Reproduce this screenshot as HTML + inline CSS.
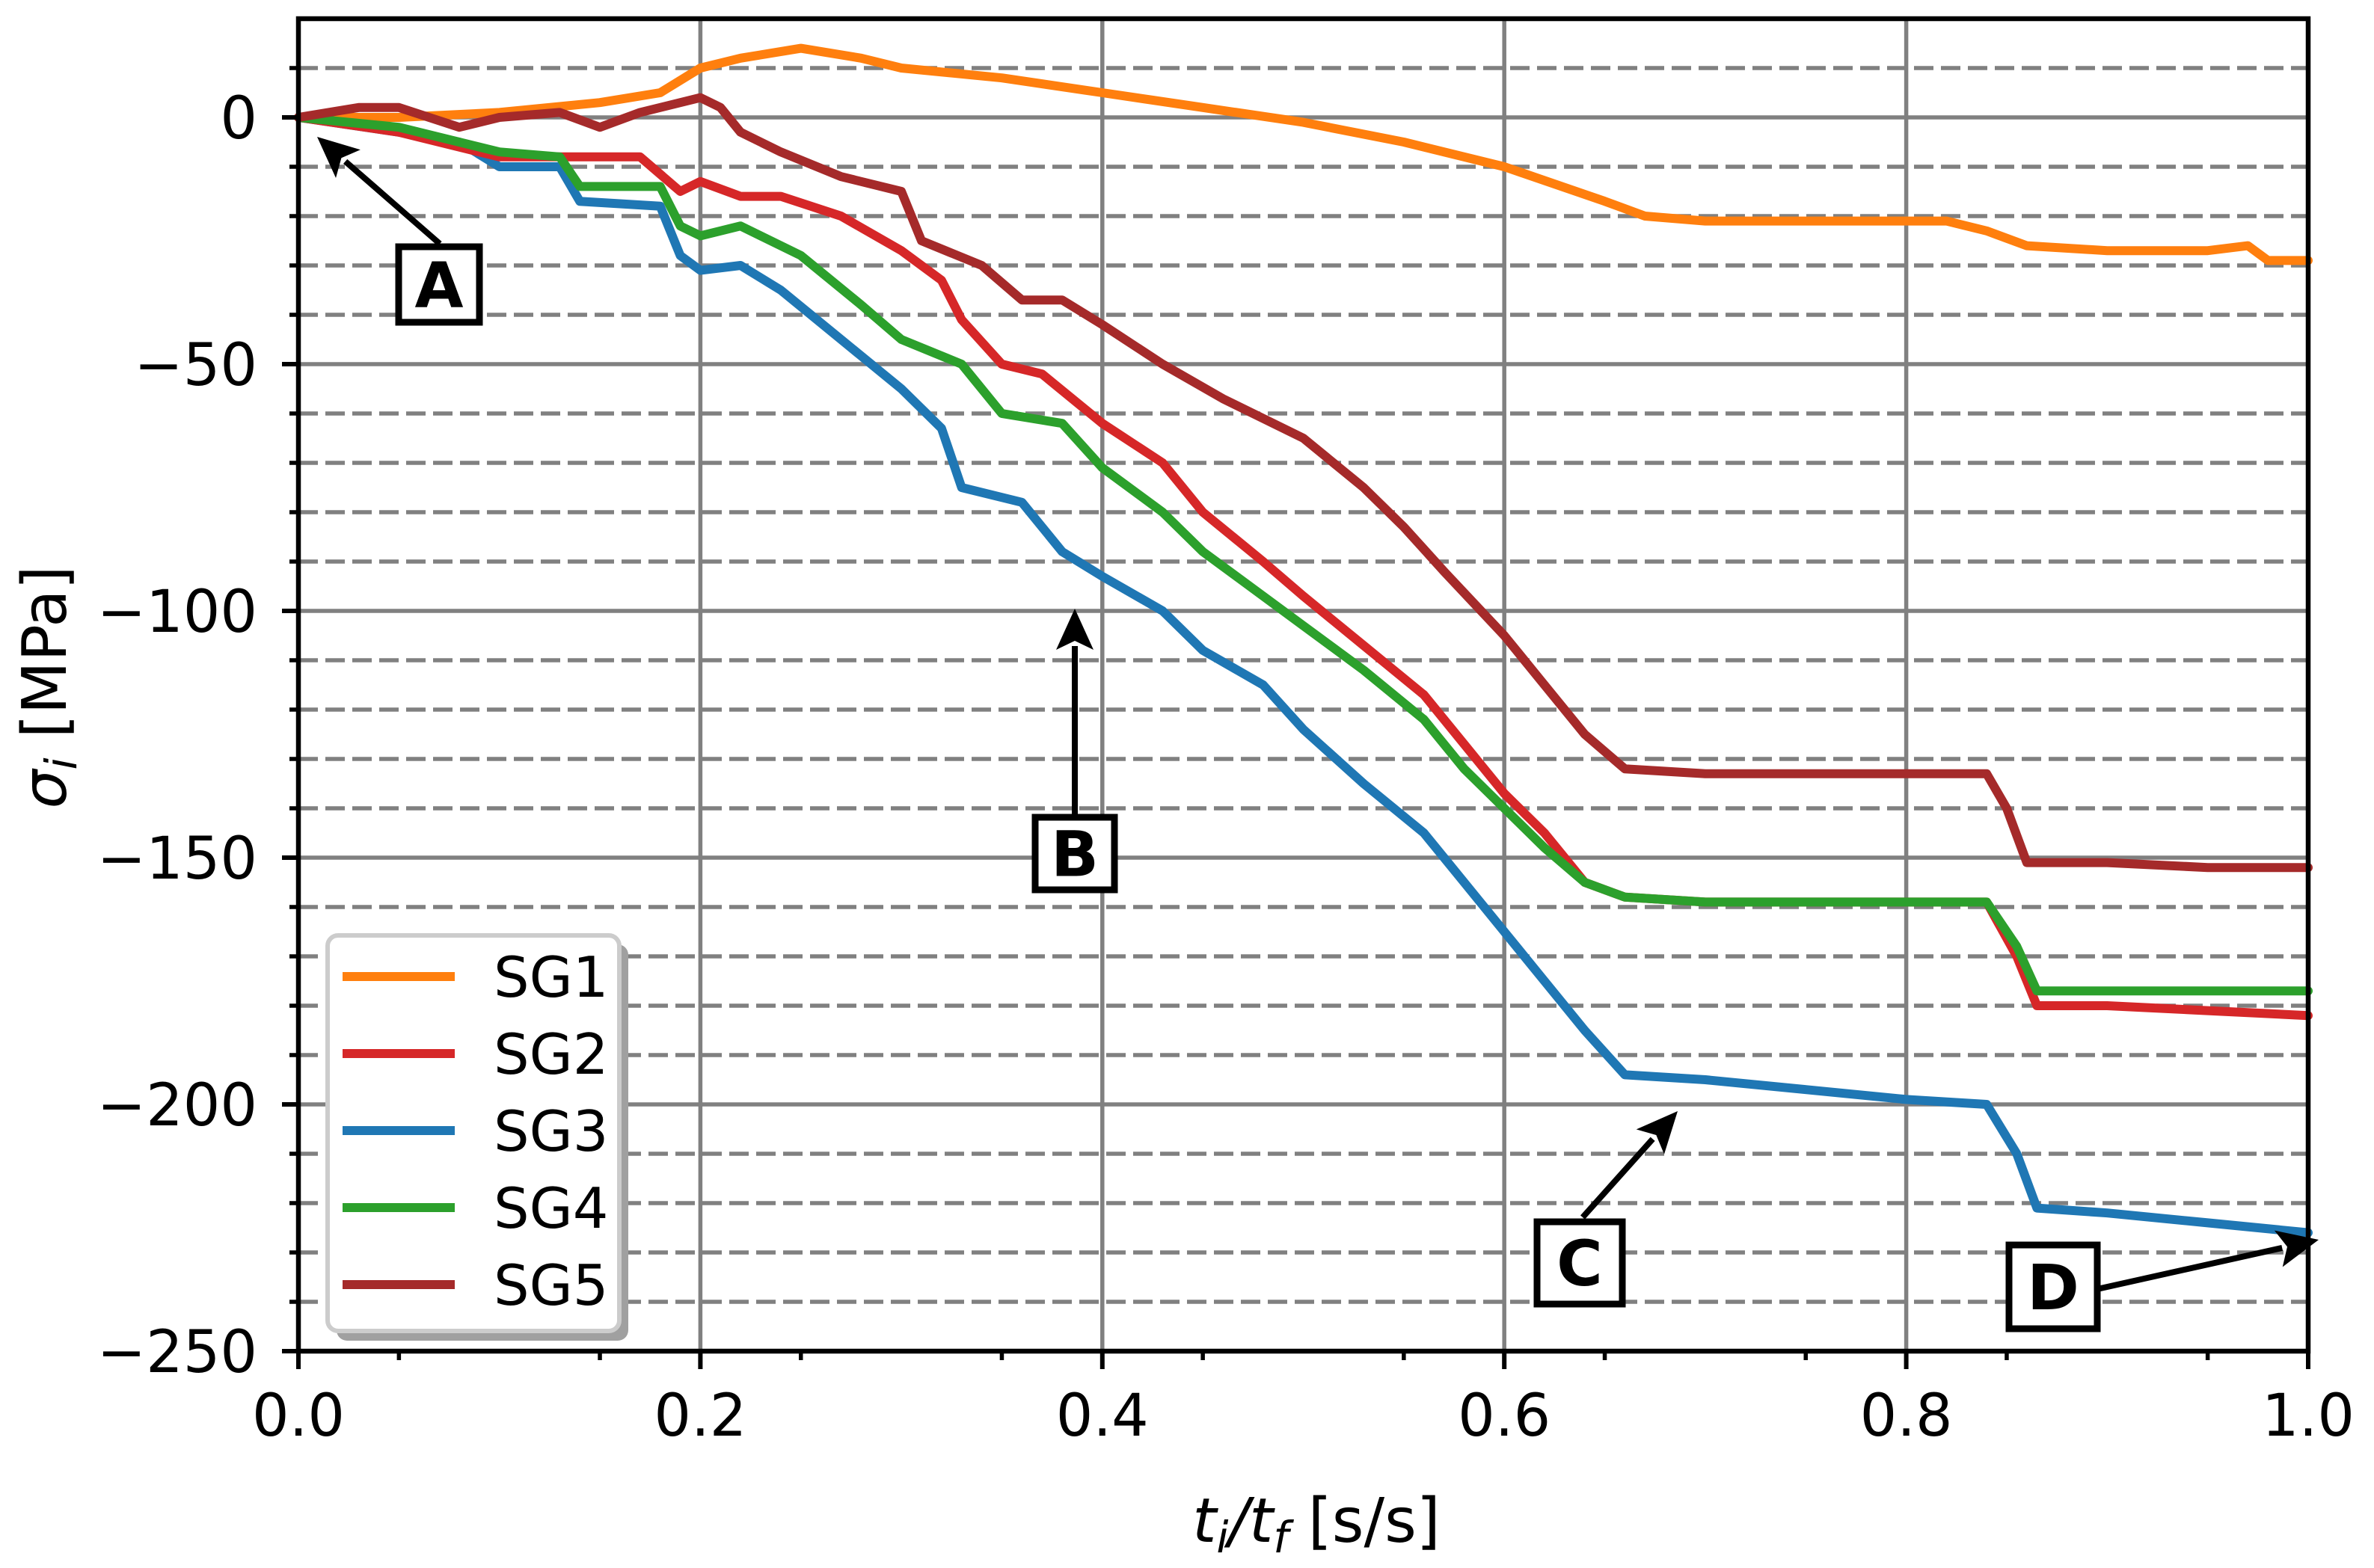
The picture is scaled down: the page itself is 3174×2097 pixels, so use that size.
<!DOCTYPE html>
<html><head><meta charset="utf-8"><style>
html,body{margin:0;padding:0;background:#fff}
svg{display:block}
text{font-family:"DejaVu Sans","Liberation Sans",sans-serif;fill:#000}
</style></head><body>
<svg id="chart" xmlns="http://www.w3.org/2000/svg" width="3174" height="2097" viewBox="0 0 3174 2097">
<g id="grid"></g>
<g id="series"></g>
<g id="axes"></g>
<g id="legend"></g>
<g id="annot"></g>
<text transform="translate(88,919) rotate(-90)" text-anchor="middle" font-size="82"><tspan font-style="italic">σ</tspan><tspan font-style="italic" font-size="58" dy="14">i</tspan><tspan dy="-14"> [MPa]</tspan></text>
<text x="1760" y="2062" text-anchor="middle" font-size="82"><tspan font-style="italic">t</tspan><tspan font-style="italic" font-size="58" dy="14">i</tspan><tspan dy="-14" font-style="italic">/t</tspan><tspan font-style="italic" font-size="58" dy="14">f</tspan><tspan dy="-14"> [s/s]</tspan></text>
</svg>
<script>
const xTicks=[0,0.2,0.4,0.6,0.8,1.0];
const xTickLabels=["0.0","0.2","0.4","0.6","0.8","1.0"];
const yTicks=[0,-50,-100,-150,-200,-250];
const yTickLabels=["0","\u221250","\u2212100","\u2212150","\u2212200","\u2212250"];
const seriesNames=["SG1","SG2","SG3","SG4","SG5"];
const sg1X=[0,0.05,0.1,0.15,0.18,0.2,0.22,0.25,0.28,0.3,0.35,0.4,0.45,0.5,0.55,0.6,0.65,0.67,0.7,0.8,0.82,0.84,0.86,0.9,0.95,0.97,0.98,1.0];
const sg1Y=[0,0,1,3,5,10,12,14,12,10,8,5,2,-1,-5,-10,-17,-20,-21,-21,-21,-23,-26,-27,-27,-26,-29,-29];
const sg2X=[0,0.05,0.1,0.13,0.17,0.19,0.2,0.22,0.24,0.27,0.3,0.32,0.33,0.35,0.37,0.4,0.43,0.45,0.48,0.5,0.53,0.56,0.58,0.6,0.62,0.64,0.66,0.7,0.8,0.84,0.855,0.865,0.9,0.95,1.0];
const sg2Y=[0,-3,-8,-8,-8,-15,-13,-16,-16,-20,-27,-33,-41,-50,-52,-62,-70,-80,-90,-97,-107,-117,-127,-137,-145,-155,-158,-159,-159,-159,-170,-180,-180,-181,-182];
const sg3X=[0,0.05,0.08,0.1,0.13,0.14,0.18,0.19,0.2,0.22,0.24,0.27,0.3,0.32,0.33,0.36,0.38,0.4,0.43,0.45,0.48,0.5,0.53,0.56,0.58,0.6,0.62,0.64,0.66,0.7,0.75,0.8,0.84,0.855,0.865,0.9,0.95,1.0];
const sg3Y=[0,-3,-5,-10,-10,-17,-18,-28,-31,-30,-35,-45,-55,-63,-75,-78,-88,-93,-100,-108,-115,-124,-135,-145,-155,-165,-175,-185,-194,-195,-197,-199,-200,-210,-221,-222,-224,-226];
const sg4X=[0,0.05,0.1,0.13,0.14,0.18,0.19,0.2,0.22,0.25,0.28,0.3,0.33,0.35,0.38,0.4,0.43,0.45,0.48,0.5,0.53,0.56,0.58,0.6,0.62,0.64,0.66,0.7,0.8,0.84,0.855,0.865,0.9,0.95,1.0];
const sg4Y=[0,-2,-7,-8,-14,-14,-22,-24,-22,-28,-38,-45,-50,-60,-62,-71,-80,-88,-97,-103,-112,-122,-132,-140,-148,-155,-158,-159,-159,-159,-168,-177,-177,-177,-177];
const sg5X=[0,0.03,0.05,0.08,0.1,0.13,0.15,0.17,0.2,0.21,0.22,0.24,0.27,0.3,0.31,0.34,0.36,0.38,0.4,0.43,0.46,0.5,0.53,0.55,0.57,0.6,0.62,0.64,0.66,0.7,0.8,0.84,0.85,0.86,0.9,0.95,1.0];
const sg5Y=[0,2,2,-2,0,1,-2,1,4,2,-3,-7,-12,-15,-25,-30,-37,-37,-42,-50,-57,-65,-75,-83,-92,-105,-115,-125,-132,-133,-133,-133,-140,-151,-151,-152,-152];

const NS="http://www.w3.org/2000/svg";
const X0=399,X1=3086,Y0=157,PPU=6.6;
const sx=v=>X0+(X1-X0)*v;
const sy=v=>Y0-v*PPU;
function mk(tag,attrs,parent){const e=document.createElementNS(NS,tag);for(const k in attrs)e.setAttribute(k,attrs[k]);parent.appendChild(e);return e;}
const grid=document.getElementById('grid'),axes=document.getElementById('axes'),ser=document.getElementById('series'),leg=document.getElementById('legend'),ann=document.getElementById('annot');
for(let v=10;v>=-240;v-=10){ if(v%50===0) continue;
  const l=mk('line',{x1:X0,x2:X1,y1:sy(v),y2:sy(v),stroke:'#808080','stroke-width':5.5,'stroke-dasharray':'26 10'},grid);
  
  
  const t=mk('line',{x1:X0-12,x2:X0,y1:sy(v),y2:sy(v),stroke:'#000','stroke-width':5.5},axes);
  
  
}
yTicks.forEach((v,i)=>{
  if(v>-250){const l=mk('line',{x1:X0,x2:X1,y1:sy(v),y2:sy(v),stroke:'#808080','stroke-width':5.5},grid);
  
  }
  const t=mk('line',{x1:X0-22,x2:X0,y1:sy(v),y2:sy(v),stroke:'#000','stroke-width':6},axes);
  
  
  const tx=mk('text',{x:344,y:sy(v)+28,'text-anchor':'end','font-size':78},axes);
  tx.textContent=yTickLabels[i];
  
  
});
for(let k=1;k<20;k+=2){const v=k*0.05;
  const t=mk('line',{x1:sx(v),x2:sx(v),y1:1807,y2:1819,stroke:'#000','stroke-width':5.5},axes);
  
  }
xTicks.forEach((v,i)=>{
  if(v>0&&v<1){const l=mk('line',{x1:sx(v),x2:sx(v),y1:25,y2:1807,stroke:'#808080','stroke-width':5.5},grid);
  
  }
  const t=mk('line',{x1:sx(v),x2:sx(v),y1:1807,y2:1831,stroke:'#000','stroke-width':6},axes);
  
  
  const tx=mk('text',{x:sx(v),y:1920,'text-anchor':'middle','font-size':78},axes);
  tx.textContent=xTickLabels[i];
  
  
});
const frame=mk('rect',{x:X0,y:25,width:X1-X0,height:1807-25,fill:'none',stroke:'#000','stroke-width':6.5},axes);


const colors=['#ff7f0e','#d62728','#1f77b4','#2ca02c','#a52a2a'];
const xs=[sg1X,sg2X,sg3X,sg4X,sg5X],ys=[sg1Y,sg2Y,sg3Y,sg4Y,sg5Y];
const order=[0,2,1,3,4];
order.forEach(i=>{
  const pts=xs[i].map((x,j)=>sx(x).toFixed(1)+','+sy(ys[i][j]).toFixed(1)).join(' ');
  const p=mk('polyline',{points:pts,fill:'none',stroke:colors[i],'stroke-width':12,'stroke-linejoin':'round','stroke-linecap':'round'},ser);
  
  
});
const sh=mk('rect',{x:450,y:1263,width:390,height:530,rx:14,fill:'#a0a0a0'},leg);


const lb=mk('rect',{x:438,y:1251,width:390,height:529,rx:14,fill:'#fff',stroke:'#cccccc','stroke-width':6},leg);


seriesNames.forEach((n,i)=>{
  const y=1306+i*103;
  const g=mk('g',{},leg);
  
  
  mk('line',{x1:458,x2:608,y1:y,y2:y,stroke:colors[i],'stroke-width':12},g);
  const t=mk('text',{x:660,y:y+27,'font-size':75},g);t.textContent=n;
});
function arrow(name,x1,y1,x2,y2){
  const g=mk('g',{},ann);
  
  
  const dx=x2-x1,dy=y2-y1,L=Math.hypot(dx,dy),ux=dx/L,uy=dy/L;
  const hl=55,hw=25;
  const bx=x2-ux*hl,by=y2-uy*hl;
  mk('line',{x1:x1,y1:y1,x2:bx+ux*5,y2:by+uy*5,stroke:'#000','stroke-width':8},g);
  mk('polygon',{points:`${x2},${y2} ${bx-uy*hw},${by+ux*hw} ${bx+ux*12},${by+uy*12} ${bx+uy*hw},${by-ux*hw}`,fill:'#000'},g);
}
function box(name,x,y,w,h,label){
  const g=mk('g',{},ann);
  
  
  mk('rect',{x:x,y:y,width:w,height:h,fill:'#fff',stroke:'#000','stroke-width':9},g);
  const t=mk('text',{x:x+w/2,y:y+h/2+30,'text-anchor':'middle','font-size':84,'font-weight':'bold'},g);t.textContent=label;
}
arrow('arrow-a',588,326,424,183);
arrow('arrow-b',1437,1089,1437,814);
arrow('arrow-c',2116,1628,2243,1486);
arrow('arrow-d',2804,1724,3100,1658);
box('label-a',533,330,108,101,'A');
box('label-b',1384,1093,106,97,'B');
box('label-c',2055,1634,114,110,'C');
box('label-d',2686,1665,118,112,'D');
</script>
</body></html>
